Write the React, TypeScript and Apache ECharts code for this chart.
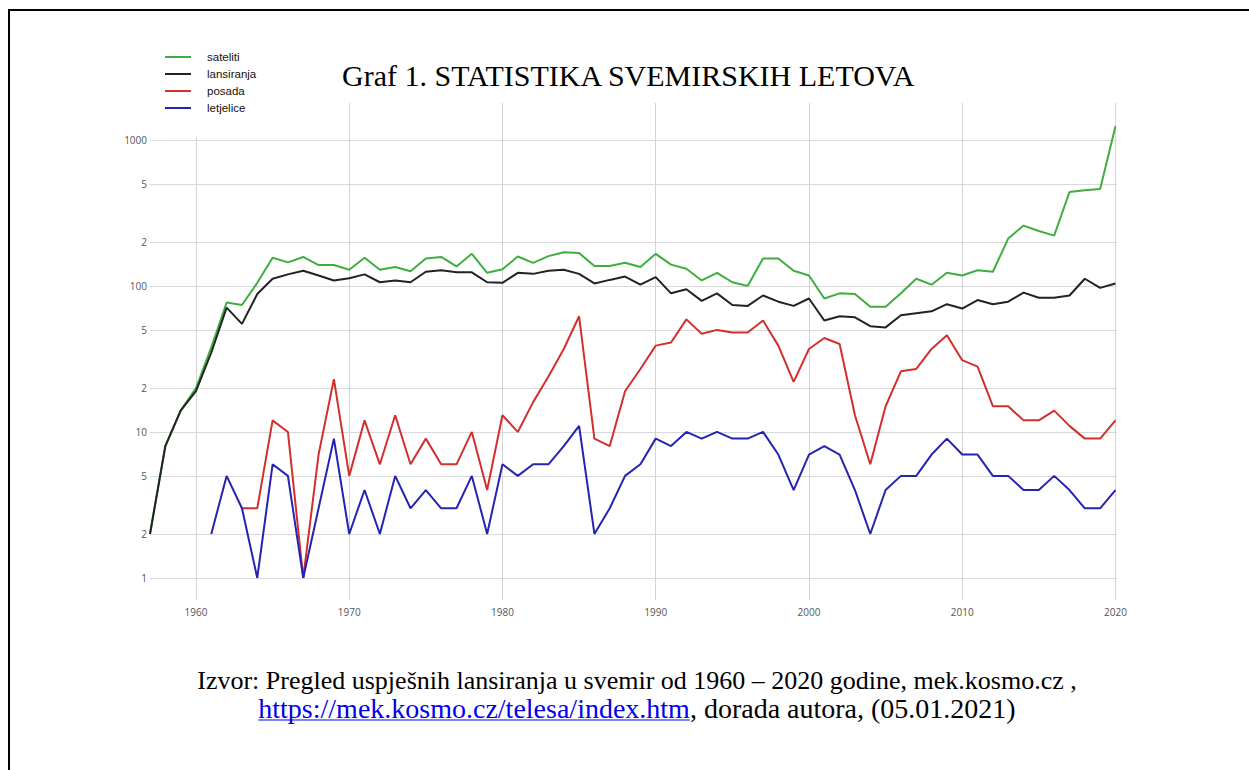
import React, { useEffect, useRef } from "react";
import * as echarts from "echarts";

const years: number[] = [];
for (let y = 1957; y <= 2020; y++) years.push(y);

const sateliti = [
  2, 8, 14, 20, 38, 77, 74, 105, 156, 145, 158, 139, 139, 129, 156, 129, 135, 126, 154, 158,
  136, 166, 123, 130, 159, 144, 160, 170, 168, 137, 137, 144, 135, 166, 140, 131, 109, 123, 106, 100,
  154, 154, 127, 118, 82, 89, 88, 72, 72, 89, 112, 102, 123, 118, 128, 125, 211, 259, 238, 221,
  440, 452, 462, 1241,
];
const lansiranja = [
  2, 8, 14, 19, 35, 71, 55, 88, 112, 120, 127, 118, 109, 113, 120, 106, 109, 106, 125, 128,
  124, 124, 106, 105, 123, 121, 127, 129, 121, 104, 110, 116, 102, 115, 89, 95, 79, 89, 74, 73,
  86, 78, 73, 82, 58, 62, 61, 53, 52, 63, 65, 67, 75, 70, 80, 75, 78, 90, 83, 83,
  86, 112, 97, 104,
];
const posada = [
  null, null, null, null, null, null, 3, 3, 12, 10, 1, 7, 23, 5, 12, 6, 13, 6, 9, 6,
  6, 10, 4, 13, 10, 16, 24, 37, 62, 9, 8, 19, 27, 39, 41, 59, 47, 50, 48, 48,
  58, 39, 22, 37, 44, 40, 13, 6, 15, 26, 27, 37, 46, 31, 28, 15, 15, 12, 12, 14,
  11, 9, 9, 12,
];
const letjelice = [
  null, null, null, null, 2, 5, 3, 1, 6, 5, 1, 3, 9, 2, 4, 2, 5, 3, 4, 3,
  3, 5, 2, 6, 5, 6, 6, 8, 11, 2, 3, 5, 6, 9, 8, 10, 9, 10, 9, 9,
  10, 7, 4, 7, 8, 7, 4, 2, 4, 5, 5, 7, 9, 7, 7, 5, 5, 4, 4, 5,
  4, 3, 3, 4,
];

const xTicks = [1960, 1970, 1980, 1990, 2000, 2010, 2020];
const yTicks = [1, 2, 5, 10, 20, 50, 100, 200, 500, 1000];

const seriesNames = ["sateliti", "lansiranja", "posada", "letjelice"];
const seriesColors = ["#3fae3f", "#222222", "#d22f2f", "#2424b0"];
const seriesValues = [sateliti, lansiranja, posada, letjelice];

const titleText = "Graf 1. STATISTIKA SVEMIRSKIH LETOVA";
const sourceLine1 = "Izvor: Pregled uspješnih lansiranja u svemir od 1960 – 2020 godine, mek.kosmo.cz ,";
const sourceLink = "https://mek.kosmo.cz/telesa/index.htm";
const sourceRest = ", dorada autora, (05.01.2021)";

const SRC_FONT = '26px "Liberation Serif"';
const SRC_FONT2 = '28px "Liberation Serif"';

function measure(text: string, font: string): number {
  const c = document.createElement("canvas").getContext("2d");
  if (!c) return text.length * 10;
  c.font = font;
  return c.measureText(text).width;
}

export default function App() {
  const ref = useRef<HTMLDivElement>(null);
  useEffect(() => {
    if (!ref.current) return;
    const chart = echarts.init(ref.current, null, { renderer: "svg" });
    const series = seriesNames.map((name, k) => ({
      name,
      type: "line",
      symbol: "none",
      color: seriesColors[k],
      lineStyle: { width: 2, color: seriesColors[k] },
      data: years
        .map((y, i) => [y, seriesValues[k][i]])
        .filter((d) => d[1] !== null && d[1] !== undefined),
    }));
    const cx = 637;
    const wLink = measure(sourceLink, SRC_FONT2);
    const wRest = measure(sourceRest, SRC_FONT2);
    const startX = cx - (wLink + wRest) / 2;
    const line2Y = 708;
    chart.setOption({
      animation: false,
      backgroundColor: "#ffffff",
      grid: { left: 150, right: 132, top: 103, bottom: 170, containLabel: false },
      legend: {
        data: seriesNames,
        orient: "vertical",
        left: 150,
        top: 45,
        padding: [5, 20, 22, 15],
        backgroundColor: "#ffffff",
        itemWidth: 26,
        itemHeight: 2,
        itemGap: 3,
        icon: "rect",
        textStyle: {
          fontFamily: "Liberation Sans",
          fontSize: 11.5,
          lineHeight: 14,
          color: "#111",
          padding: [0, 0, 0, 11],
        },
      },
      xAxis: {
        type: "value",
        min: 1957,
        max: 2020.1,
        axisLine: { show: false },
        axisTick: { show: false, customValues: xTicks },
        splitLine: { show: true, lineStyle: { color: "#d4d4d4", width: 1 } },
        axisLabel: {
          customValues: xTicks,
          color: "#555",
          fontFamily: "Open Sans",
          fontSize: 10,
          margin: 7,
          formatter: (v: number) => String(v),
        },
      },
      yAxis: {
        type: "log",
        logBase: 10,
        min: 0.706,
        max: 1791,
        axisLine: { show: false },
        axisTick: { show: false, customValues: yTicks },
        splitLine: { show: true, lineStyle: { color: "#d9d9d9", width: 1 } },
        axisLabel: {
          customValues: yTicks,
          color: "#555",
          fontFamily: "Open Sans",
          fontSize: 10,
          margin: 3,
          formatter: (v: number) => {
            const lg = Math.log10(v);
            if (Math.abs(lg - Math.round(lg)) < 1e-6) return String(Math.round(v));
            return String(Math.round(v / Math.pow(10, Math.floor(lg + 1e-9))));
          },
        },
      },
      series,
      graphic: [
        {
          type: "polyline",
          shape: { points: [[9, 770], [9, 10], [1249, 10]] },
          style: { stroke: "#000", lineWidth: 2, fill: "none" },
          z: 10,
        },
        {
          type: "text",
          x: 342,
          y: 75,
          style: {
            text: titleText,
            font: '30px "Liberation Serif"',
            fill: "#000",
            align: "left",
            verticalAlign: "middle",
          },
        },
        {
          type: "text",
          x: cx,
          y: 680,
          style: {
            text: sourceLine1,
            font: SRC_FONT,
            fill: "#000",
            align: "center",
            verticalAlign: "middle",
          },
        },
        {
          type: "text",
          x: startX,
          y: line2Y,
          style: {
            text: sourceLink,
            font: SRC_FONT2,
            fill: "#0000ee",
            align: "left",
            verticalAlign: "middle",
          },
        },
        {
          type: "text",
          x: startX + wLink,
          y: line2Y,
          style: {
            text: sourceRest,
            font: SRC_FONT2,
            fill: "#000",
            align: "left",
            verticalAlign: "middle",
          },
        },
        {
          type: "line",
          shape: { x1: startX, y1: line2Y + 12, x2: startX + wLink, y2: line2Y + 12 },
          style: { stroke: "#0000ee", lineWidth: 1.2 },
        },
      ],
    });
    return () => chart.dispose();
  }, []);
  return (
    <div
      ref={ref}
      style={{ position: "absolute", left: 0, top: 0, width: 1249, height: 770 }}
    />
  );
}
